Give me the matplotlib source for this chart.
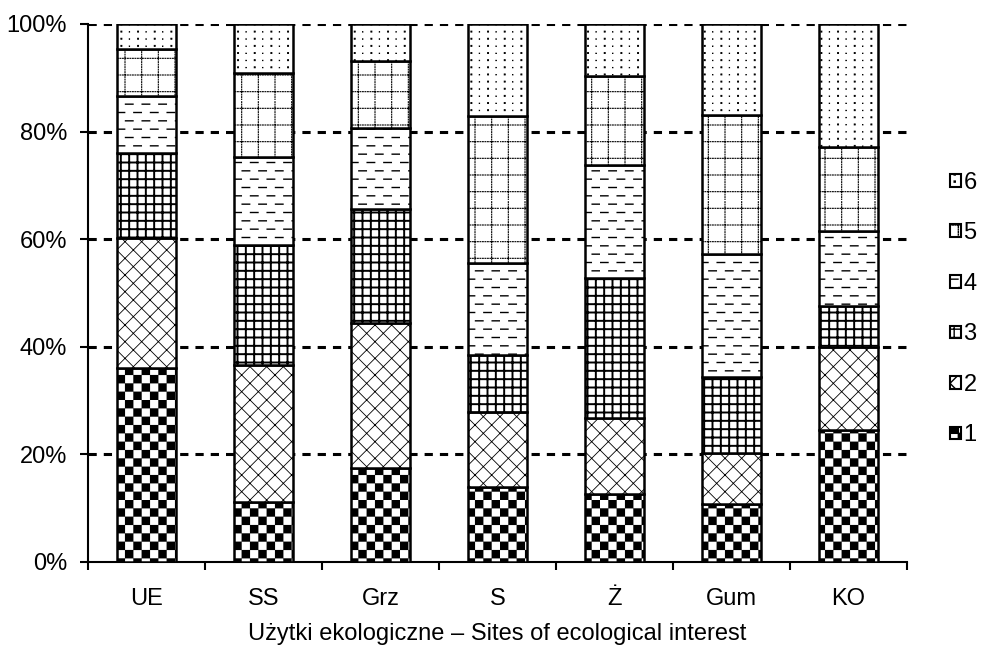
import warnings
import numpy as np
import matplotlib
matplotlib.use("Agg")
import matplotlib.pyplot as plt
import matplotlib.hatch as mhatch
from matplotlib.path import Path
from matplotlib.ticker import FixedLocator

warnings.filterwarnings("ignore")

# sites of ecological interest
sites = ["UE", "SS", "Grz", "S", "Ż", "Gum", "KO"]
groups = ["1", "2", "3", "4", "5", "6"]

# share of each group per site (%)
g1 = [36.1, 11.2, 17.4, 14.0, 12.6, 10.8, 24.5]
g2 = [24.2, 25.4, 27.0, 13.9, 14.1, 9.5, 15.5]
g3 = [15.7, 22.4, 21.3, 10.6, 26.0, 14.0, 7.6]
g4 = [10.6, 16.3, 14.9, 17.0, 21.0, 22.9, 14.0]
g5 = [8.7, 15.6, 12.5, 27.4, 16.6, 25.8, 15.5]
g6 = [4.7, 9.1, 6.9, 17.1, 9.7, 17.0, 22.9]

yticks = [0, 20, 40, 60, 80, 100]
xlabel = "Użytki ekologiczne – Sites of ecological interest"


# extra hatch patterns that matplotlib does not have (checker, dashes, dotted grid, dots)
def _square(x, y, s):
    v = [(x, y), (x + s, y), (x + s, y + s), (x, y + s), (x, y)]
    c = [Path.MOVETO, Path.LINETO, Path.LINETO, Path.LINETO, Path.CLOSEPOLY]
    return v, c


class ExtraHatch(mhatch.HatchPatternBase):
    def __init__(self, hatch, density):
        verts, codes = [], []
        if "k" in hatch:
            n = 12
            for i in range(n):
                for j in range(n):
                    if (i + j) % 2 == 0:
                        v, c = _square(i / n, j / n, 1 / n)
                        verts += v
                        codes += c
        if "d" in hatch:
            for r in range(12):
                y = (r + 0.5) / 12
                off = 0.005 + (r % 2) / 12
                for k in range(6):
                    x0 = k / 6 + off
                    verts += [(x0, y), (x0 + 0.075, y)]
                    codes += [Path.MOVETO, Path.LINETO]
        if "g" in hatch:
            for i in range(6):
                p = (i + 0.5) / 6
                for k in range(40):
                    t = k / 40
                    verts += [(p, t), (p, t + 0.008), (t, p), (t + 0.008, p)]
                    codes += [Path.MOVETO, Path.LINETO] * 2
        if "p" in hatch:
            for i in range(12):
                for j in range(14):
                    s = 0.011 if i % 2 == 0 else 0.005
                    v, c = _square((i + 0.5) / 12, (j + 0.5) / 14, s)
                    verts += v
                    codes += c
        self.verts = np.array(verts, dtype=float).reshape(-1, 2)
        self.codes = np.array(codes, dtype=Path.code_type)
        self.num_vertices = len(self.verts)

    def set_vertices_and_codes(self, vertices, codes):
        vertices[:] = self.verts
        codes[:] = self.codes


mhatch._hatch_types.append(ExtraHatch)

plt.rcParams["font.family"] = ["Liberation Sans", "DejaVu Sans"]
plt.rcParams["font.size"] = 17

hatches = ["k", "xx", "++", "d", "g", "p"]
hatch_lw = [0.1, 0.6, 1.4, 1.0, 0.8, 0.6]

fig = plt.figure(figsize=(9.85, 6.48), dpi=100)
ax = fig.add_axes([88 / 985, 1 - 562 / 648, (907 - 88) / 985, (562 - 24) / 648])

data = np.array([g1, g2, g3, g4, g5, g6])
data = data / data.sum(axis=0) * 100
x = np.arange(len(sites))
bottom = np.zeros(len(sites))
for k in range(len(groups)):
    bars = ax.bar(x, data[k], 0.5, bottom=bottom, color="white", edgecolor="black",
                  linewidth=1.8, hatch=hatches[k], label=groups[k], zorder=3)
    for b in bars:
        b.set_hatch_linewidth(hatch_lw[k])
    bottom += data[k]

ax.set_xlim(-0.5, len(sites) - 0.5)
ax.set_ylim(0, 100)
ax.set_yticks(yticks)
ax.set_yticklabels([f"{v}%" for v in yticks])
ax.set_xticks(x)
ax.set_xticklabels(sites)
ax.xaxis.set_minor_locator(FixedLocator(np.arange(-0.5, len(sites), 1)))
ax.tick_params(axis="x", which="major", length=0, pad=19)
ax.tick_params(axis="x", which="minor", length=6, width=1.5, direction="out")
ax.tick_params(axis="y", length=6, width=1.5, pad=9)

for v in yticks[1:]:
    ax.axhline(v, color="black", linewidth=2.2, linestyle=(0, (2.7, 2.3)), zorder=1)

for s in ["top", "right"]:
    ax.spines[s].set_visible(False)
for s in ["left", "bottom"]:
    ax.spines[s].set_linewidth(1.5)

ax.set_xlabel(xlabel, labelpad=9)

handles, labels = ax.get_legend_handles_labels()
leg = fig.legend(handles[::-1], labels[::-1], loc="center left",
                 bbox_to_anchor=(950 / 985, 1 - 309 / 648), frameon=False,
                 borderpad=0, borderaxespad=0, labelspacing=1.21,
                 handlelength=0.45, handleheight=0.45, handletextpad=0.12)
for p in leg.get_patches():
    p.set_linewidth(1.5)

fig.savefig("out.png", dpi=100)
